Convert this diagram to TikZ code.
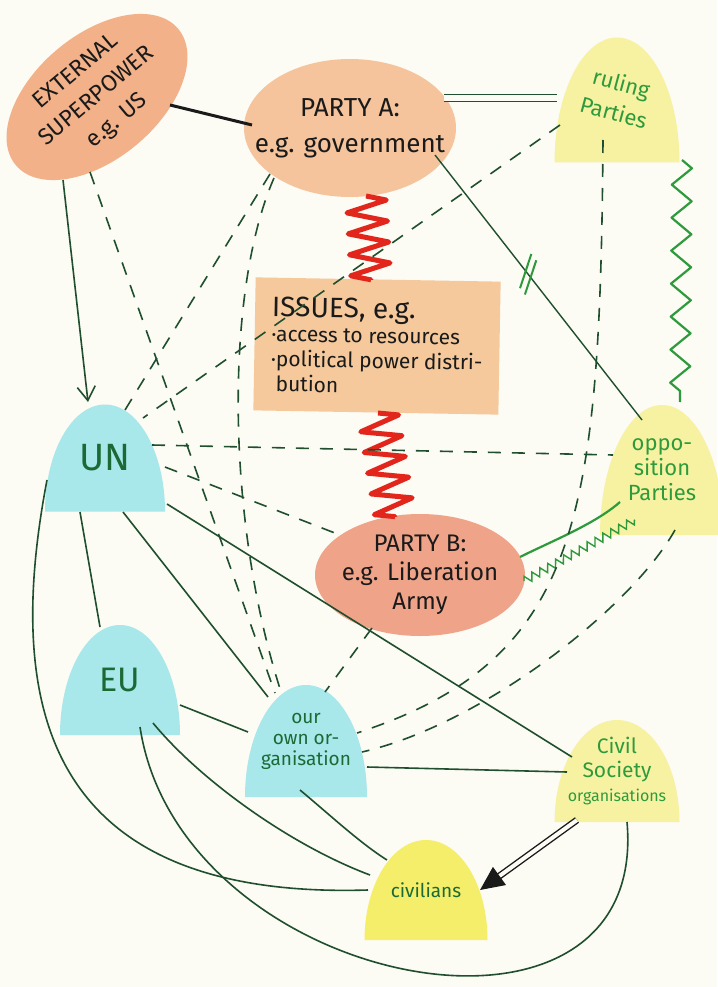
\documentclass[tikz,border=0pt]{standalone}
\usepackage{fontspec}
\setmainfont{Fira Sans}
\usetikzlibrary{shapes.geometric, decorations.pathmorphing, decorations.markings, arrows.meta}

\definecolor{paper}{HTML}{FCFBF4}
\definecolor{peach}{HTML}{F2B189}
\definecolor{apricot}{HTML}{F6C49C}
\definecolor{tan}{HTML}{F5C99B}
\definecolor{salmon}{HTML}{EFA48A}
\definecolor{sky}{HTML}{A8E7EA}
\definecolor{lemon}{HTML}{F6F2A2}
\definecolor{sun}{HTML}{F4EE6A}
\definecolor{ink}{HTML}{1A1A1A}
\definecolor{pine}{HTML}{1F4F2E}
\definecolor{leaf}{HTML}{2E9A3C}
\definecolor{moss}{HTML}{1B6A35}
\definecolor{fire}{HTML}{E3261C}

\begin{document}
\begin{tikzpicture}[x=1pt, y=-1pt,
	blob/.style = {ellipse, inner xsep=-30pt, inner ysep=-12pt, align=center, text=ink},
	dome/.style n args = {3}{minimum width=#1pt, minimum height=#2pt, inner sep=0pt, align=center,
		path picture={\fill [#3] (path picture bounding box.south west) arc [start angle=180, end angle=0, x radius=#1pt/2, y radius=#2pt] -- cycle;}},
	tie/.style = {draw=pine, line width=1.6pt},
	loose/.style = {tie, dash pattern=on 13pt off 11pt},
	clash/.style = {draw=fire, line width=5pt, line join=round, decorate, decoration={zigzag, segment length=21pt, amplitude=20pt}},
	strain/.style = {draw=leaf, line width=2.2pt, line join=round, decorate, decoration={zigzag, segment length=33pt, amplitude=10pt}},
	tremor/.style = {draw=leaf, line width=1.4pt, decorate, decoration={zigzag, segment length=9pt, amplitude=4pt}}]

	\useasboundingbox (0,0) rectangle (717,987);
	\fill [paper] (0,0) rectangle (717,987);

	\node [blob, fill=peach, minimum width=212pt, minimum height=124pt, rotate=40, font=\fontsize{23}{32}\selectfont] (esp) at (97,97) {EXTERNAL\\ SUPERPOWER\\ e.g. US};
	\node [blob, fill=apricot, minimum width=212pt, minimum height=138pt, font=\fontsize{26}{36}\selectfont] (pa) at (350,128) {PARTY A:\\ e.g. government};
	\node [fill=tan, minimum width=245pt, minimum height=133pt, inner sep=8pt, align=left, text=ink, rotate=-1, font=\fontsize{21}{25}\selectfont] (iss) at (377,346) {{\fontsize{28}{32}\selectfont ISSUES, e.g.}\\ ·access to resources\\ ·political power distri-\\ \hphantom{·}bution};
	\node [blob, fill=salmon, minimum width=210pt, minimum height=122pt, font=\fontsize{24}{29}\selectfont] (pb) at (420,575) {PARTY B:\\ e.g. Liberation\\ Army};

	\node [dome={125}{125}{lemon}, text=leaf, font=\fontsize{22}{30}\selectfont] (rul) at (617,100) {\rotatebox{-15}{\begin{tabular}{@{}c@{}}ruling\\ Parties\end{tabular}}};
	\node [dome={124}{130}{lemon}, text=leaf, font=\fontsize{22}{25}\selectfont] (opp) at (662,470) {oppo-\\ sition\\ Parties};
	\node [dome={120}{107}{sky}, text=moss, font=\fontsize{38}{44}\selectfont] (un) at (105,458) {UN};
	\node [dome={120}{110}{sky}, text=moss, font=\fontsize{34}{40}\selectfont] (eu) at (120,680) {EU};
	\node [dome={122}{112}{sky}, text=moss, font=\fontsize{19}{21}\selectfont] (org) at (306,741) {our\\ own or-\\ ganisation};
	\node [dome={125}{102}{lemon}, text=leaf, font=\fontsize{21}{24}\selectfont] (cso) at (617,771) {Civil\\ Society\\ {\fontsize{16}{20}\selectfont organisations}};
	\node [dome={123}{100}{sun}, text=moss, font=\fontsize{19}{22}\selectfont] (civ) at (426,890) {civilians};

	% solid ties
	\draw [line width=3pt, ink] ([shift={(73,8)}]esp.center) -- ([shift={(-98,-3)}]pa.center);
	\draw [tie, -{Straight Barb[length=14pt, width=18pt]}] ([shift={(-34,83)}]esp.center) -- ([shift={(-17,-56)}]un.center);
	\draw [tie, line width=1.3pt, double=paper, double distance=6pt] ([shift={(94,-30)}]pa.center) -- ([shift={(-60,-2)}]rul.center);
	\draw [tie, line width=1.4pt, postaction={decorate}, decoration={markings, mark=at position 0.45 with {\draw [leaf, line width=2pt] (14pt,-15pt) -- (-6pt,15pt) (6pt,-15pt) -- (-14pt,15pt);}}] ([shift={(85,27)}]pa.center) -- ([shift={(-20,-50)}]opp.center);
	\draw [tie] ([shift={(-25,54)}]un.center) -- ([shift={(-20,-53)}]eu.center);
	\draw [tie] ([shift={(18,54)}]un.center) -- ([shift={(-38,-44)}]org.center);
	\draw [tie] ([shift={(62,46)}]un.center) -- ([shift={(-45,-14)}]cso.center);
	\draw [tie] ([shift={(-58,22)}]un.center) .. controls (5,700) and (40,900) .. ([shift={(-58,0)}]civ.center);
	\draw [tie] ([shift={(60,25)}]eu.center) -- ([shift={(-58,-9)}]org.center);
	\draw [tie] ([shift={(33,43)}]eu.center) .. controls (200,780) and (290,845) .. ([shift={(-56,-15)}]civ.center);
	\draw [tie] ([shift={(20,47)}]eu.center) .. controls (180,990) and (650,1080) .. ([shift={(10,51)}]cso.center);
	\draw [tie] ([shift={(-6,49)}]org.center) .. controls (330,815) and (360,843) .. ([shift={(-39,-30)}]civ.center);
	\draw [tie] ([shift={(61,26)}]org.center) -- ([shift={(-50,1)}]cso.center);
	\draw [tie, draw=ink, line width=1.4pt, double=paper, double distance=4pt, -{Triangle[length=24pt, width=22pt]}] ([shift={(-40,49)}]cso.center) -- ([shift={(54,0)}]civ.center);
	\draw [draw=leaf, line width=2.2pt] ([shift={(100,-18)}]pb.center) .. controls (552,541) and (595,524) .. ([shift={(-42,32)}]opp.center);

	% conflict lines
	\draw [clash] ([shift={(16,68)}]pa.center) -- ([shift={(-6,-66)}]iss.center);
	\draw [clash] ([shift={(1,67)}]iss.center) -- ([shift={(-25,-58)}]pb.center);
	\draw [strain] ([shift={(65,60)}]rul.center) -- ([shift={(18,-68)}]opp.center);
	\draw [tremor] ([shift={(104,6)}]pb.center) -- ([shift={(-27,50)}]opp.center);

	% loose contacts
	\draw [loose] ([shift={(-7,75)}]esp.center) -- ([shift={(-31,-48)}]org.center);
	\draw [loose] ([shift={(-80,46)}]pa.center) -- ([shift={(20,-48)}]un.center);
	\draw [loose] ([shift={(-76,50)}]pa.center) .. controls (225,290) and (225,520) .. ([shift={(-24,-46)}]org.center);
	\draw [loose] ([shift={(-57,25)}]rul.center) -- ([shift={(38,-40)}]un.center);
	\draw [loose] ([shift={(-14,40)}]rul.center) .. controls (600,520) and (580,660) .. ([shift={(51,-8)}]org.center);
	\draw [loose] ([shift={(47,-13)}]un.center) -- ([shift={(-49,-15)}]opp.center);
	\draw [loose] ([shift={(60,9)}]un.center) -- ([shift={(-80,-40)}]pb.center);
	\draw [loose] ([shift={(13,60)}]opp.center) .. controls (630,610) and (480,725) .. ([shift={(56,11)}]org.center);
	\draw [loose] ([shift={(-48,53)}]pb.center) -- ([shift={(19,-49)}]org.center);

\end{tikzpicture}
\end{document}
